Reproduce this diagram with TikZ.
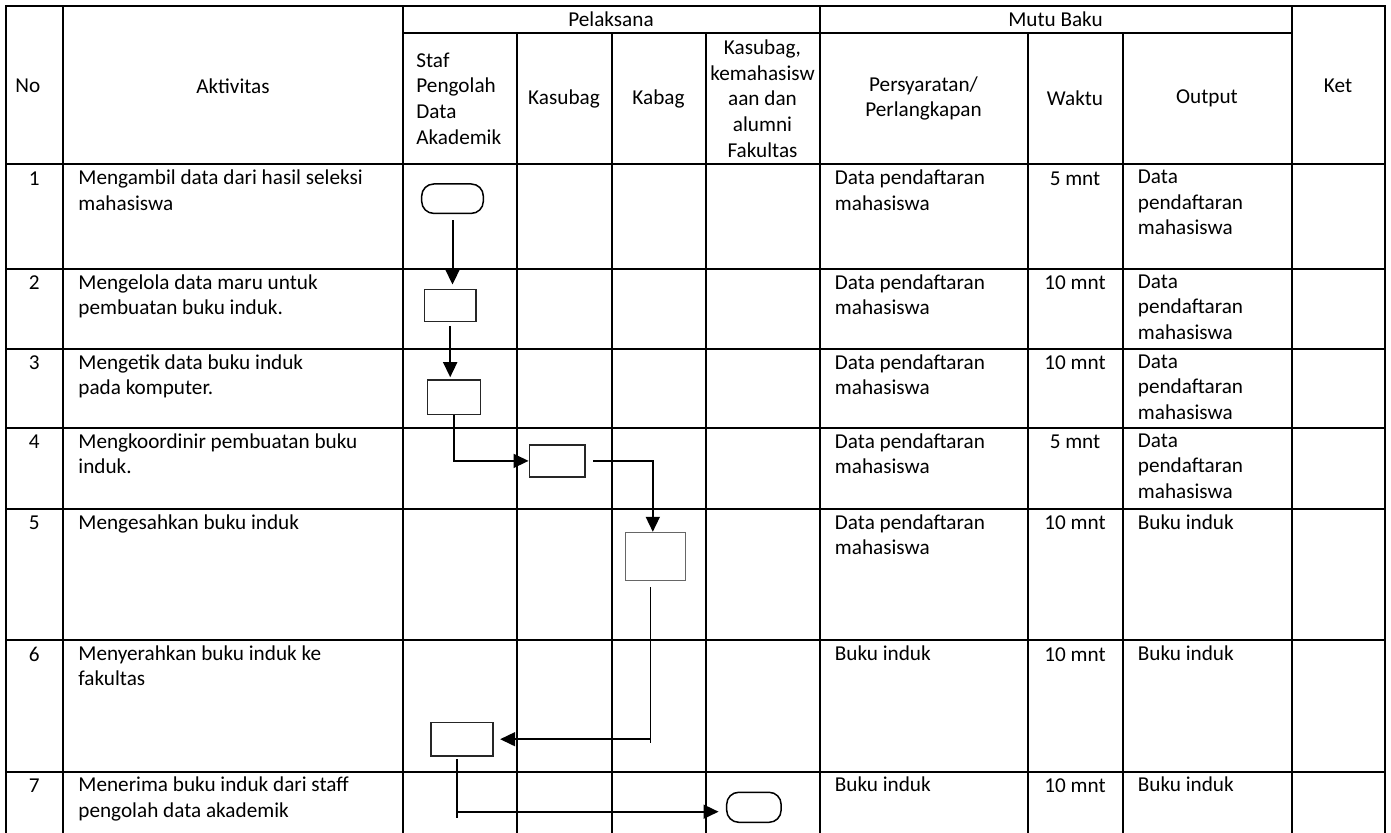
\documentclass[tikz,border=0pt]{standalone}
\usepackage{fontspec}
\setmainfont{Carlito}
\usetikzlibrary{arrows.meta,positioning}
\tikzset{
  tabline/.style={line width=1pt},
  txt/.style={inner sep=0pt,font=\fontsize{10.6}{12.8}\selectfont},
  hdr/.style={txt,align=center},
  cell/.style={txt,align=left,anchor=north west,yshift=-0.75pt},
  num/.style={txt,anchor=base},
  term/.style={draw,line width=0.75pt,fill=white,rounded corners=6pt,minimum width=30.8pt,minimum height=14.7pt,inner sep=0pt},
  proc/.style={draw=black!85,line width=0.75pt,fill=white,inner sep=0pt},
  arr/.style={-{Triangle[length=7.5pt,width=7pt]},line width=0.8pt},
}
\begin{document}
\begin{tikzpicture}[x=0.5pt,y=-0.5pt]
  \useasboundingbox (0,0) rectangle (1391,833);
  % table lines
  \draw[tabline] (6,833) -- (6,6) -- (1385,6) -- (1385,833);
  \draw[tabline] (403,32.7) -- (1291.5,32.7);
  \foreach \x in {62.5,403,819.5,1291.5} \draw[tabline] (\x,6) -- (\x,833);
  \foreach \x in {517,611.5,705.5,1027.5,1122.5} \draw[tabline] (\x,32.7) -- (\x,833);
  \foreach \y in {164.5,269,349,428,509,640,771.5} \draw[tabline] (6,\y) -- (1385,\y);

  % header
  \node[txt,anchor=west] (hNo) at (15,86) {No};
  \node[hdr] (hAkt) at (233,86) {Aktivitas};
  \node[hdr] (hPel) at (611,19.5) {Pelaksana};
  \node[hdr] (hMutu) at (1055.5,19.5) {Mutu Baku};
  \node[txt,align=left,anchor=west] (hStaf) at (416,98.6) {Staf\\Pengolah\\Data\\Akademik};
  \node[hdr] (hKsb) at (564,98.6) {Kasubag};
  \node[hdr] (hKbg) at (658.5,98.6) {Kabag};
  \node[hdr] (hKem) at (762.5,98.6) {Kasubag,\\kemahasisw\\aan dan\\alumni\\Fakultas};
  \node[hdr] (hSyr) at (923.5,98.6) {Persyaratan/\\Perlangkapan};
  \node[hdr] (hWkt) at (1075,98.6) {Waktu};
  \node[hdr] (hOut) at (1207,98.6) {Output};
  \node[hdr] (hKet) at (1338,86) {Ket};

  % rows
  \node[num] (no1) at (34.3,185.5) {1};
  \node[cell] (akt1) at (78,168) {Mengambil data dari hasil seleksi\\mahasiswa};
  \node[cell] (syr1) at (834.5,168) {Data pendaftaran\\mahasiswa};
  \node[num] (wkt1) at (1075,185.5) {5 mnt};
  \node[cell] (out1) at (1137.5,168) {Data\\pendaftaran\\mahasiswa};

  \node[num] (no2) at (34.3,290) {2};
  \node[cell] (akt2) at (78,272.5) {Mengelola data maru untuk\\pembuatan buku induk.};
  \node[cell] (syr2) at (834.5,272.5) {Data pendaftaran\\mahasiswa};
  \node[num] (wkt2) at (1075,290) {10 mnt};
  \node[cell] (out2) at (1137.5,272.5) {Data\\pendaftaran\\mahasiswa};

  \node[num] (no3) at (34.3,370) {3};
  \node[cell] (akt3) at (78,352.5) {Mengetik data buku induk\\pada komputer.};
  \node[cell] (syr3) at (834.5,352.5) {Data pendaftaran\\mahasiswa};
  \node[num] (wkt3) at (1075,370) {10 mnt};
  \node[cell] (out3) at (1137.5,352.5) {Data\\pendaftaran\\mahasiswa};

  \node[num] (no4) at (34.3,449) {4};
  \node[cell] (akt4) at (78,431.5) {Mengkoordinir pembuatan buku\\induk.};
  \node[cell] (syr4) at (834.5,431.5) {Data pendaftaran\\mahasiswa};
  \node[num] (wkt4) at (1075,449) {5 mnt};
  \node[cell] (out4) at (1137.5,431.5) {Data\\pendaftaran\\mahasiswa};

  \node[num] (no5) at (34.3,530) {5};
  \node[cell] (akt5) at (78,512.5) {Mengesahkan buku induk};
  \node[cell] (syr5) at (834.5,512.5) {Data pendaftaran\\mahasiswa};
  \node[num] (wkt5) at (1075,530) {10 mnt};
  \node[cell] (out5) at (1137.5,512.5) {Buku induk};

  \node[num] (no6) at (34.3,661) {6};
  \node[cell] (akt6) at (78,643.5) {Menyerahkan buku induk ke\\fakultas};
  \node[cell] (syr6) at (834.5,643.5) {Buku induk};
  \node[num] (wkt6) at (1075,661) {10 mnt};
  \node[cell] (out6) at (1137.5,643.5) {Buku induk};

  \node[num] (no7) at (34.3,792.5) {7};
  \node[cell] (akt7) at (78,775) {Menerima buku induk dari staff\\pengolah data akademik};
  \node[cell] (syr7) at (834.5,775) {Buku induk};
  \node[num] (wkt7) at (1075,792.5) {10 mnt};
  \node[cell] (out7) at (1137.5,775) {Buku induk};

  % flow
  \node[term] (mulai) at (452.5,198.7) {};
  \node[proc,minimum width=25.9pt,minimum height=16.2pt] (olah) at (450.2,305.5) {};
  \node[proc,minimum width=26.5pt,minimum height=17.2pt] (ketik) at (454.2,397.2) {};
  \node[proc,minimum width=27.9pt,minimum height=15.9pt] (koord) at (557.2,460.9) {};
  \node[proc,draw=black!60,line width=0.5pt,minimum width=30pt,minimum height=23.9pt] (sah) at (655,556.2) {};
  \node[proc,minimum width=30.9pt,minimum height=16.9pt] (serah) at (461.9,739.2) {};
  \node[term,minimum width=27.2pt,minimum height=15pt] (terima) at (753.9,807.3) {};

  \draw[arr,line width=1pt,shorten <=3pt,shorten >=2pt] (mulai.south) -- (mulai.south |- olah.north);
  \draw[arr,shorten <=1.7pt,shorten >=1pt] (olah.south) -- (olah.south |- ketik.north);
  \draw[arr] (ketik.south) |- (koord.west);
  \draw[arr,shorten <=3.6pt] (koord.east) -| ([xshift=-1.1pt]sah.north);
  \coordinate (tail5) at (650.7,743.3);
  \draw[line width=0.5pt] ([yshift=-3.3pt]sah.south -| tail5) -- (tail5);
  \draw[arr,shorten >=3.3pt] (tail5 |- serah.east) -- (serah.east);
  \coordinate (tail7) at (457.3,818.3);
  \coordinate (in7) at ([yshift=-2.2pt]terima.west);
  \draw[line width=0.9pt] ([yshift=-1pt]serah.south -| tail7) -- (tail7);
  \draw[arr,shorten >=3.7pt] (tail7 |- in7) -- (in7);
\end{tikzpicture}
\end{document}
